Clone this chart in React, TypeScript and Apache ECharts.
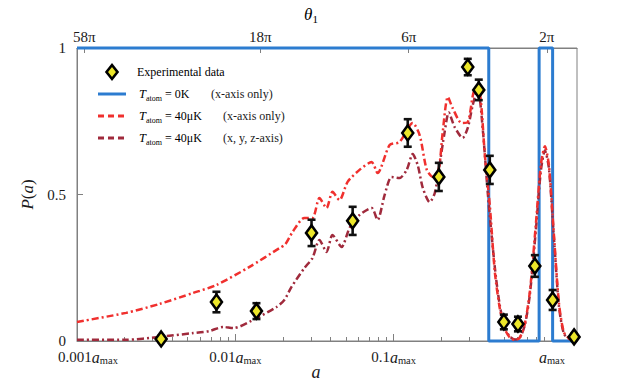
import React, { useEffect, useRef } from 'react';
import * as echarts from 'echarts';

// ---------- data ----------
const A_MIN = 0.001;
const A_MAX = 1.44;

// experimental points (a / a_max, P(a), error)
const expA = [0.0034, 0.0076, 0.0136, 0.0303, 0.0551, 0.1228, 0.193, 0.294, 0.345, 0.405, 0.497, 0.61, 0.78, 1.01, 1.38];
const expP = [0.007, 0.133, 0.102, 0.369, 0.41, 0.71, 0.56, 0.935, 0.857, 0.584, 0.065, 0.058, 0.256, 0.14, 0.014];
const expErr = [0.01, 0.035, 0.027, 0.045, 0.048, 0.047, 0.048, 0.028, 0.035, 0.048, 0.025, 0.025, 0.037, 0.034, 0.01];

// T_atom = 0K (x-axis only)
const blueA = [0.001, 0.399, 0.399, 0.83, 0.83, 1.01, 1.01, 1.44];
const blueP = [1, 1, 0, 0, 1, 1, 0, 0];

// T_atom = 40 uK (x-axis only)
const redA = [0.001, 0.00204, 0.0033, 0.00542, 0.00759, 0.0123, 0.019, 0.0207, 0.023, 0.0273, 0.0307, 0.034, 0.0377, 0.0411, 0.0455, 0.0512, 0.0609, 0.0726, 0.0792, 0.0944, 0.109, 0.132, 0.146, 0.162, 0.177, 0.193, 0.204, 0.22, 0.236, 0.269, 0.294, 0.326, 0.35, 0.377, 0.405, 0.436, 0.469, 0.505, 0.542, 0.583, 0.627, 0.675, 0.726, 0.792, 0.851, 0.903, 0.957, 1.03, 1.107, 1.19, 1.3];
const redP = [0.065, 0.096, 0.126, 0.164, 0.191, 0.253, 0.317, 0.33, 0.372, 0.42, 0.42, 0.488, 0.454, 0.509, 0.481, 0.543, 0.584, 0.611, 0.573, 0.669, 0.679, 0.744, 0.703, 0.584, 0.56, 0.59, 0.71, 0.833, 0.795, 0.744, 0.747, 0.857, 0.85, 0.635, 0.464, 0.235, 0.11, 0.04, 0.012, 0.003, 0.012, 0.06, 0.17, 0.4, 0.6, 0.665, 0.6, 0.36, 0.13, 0.03, 0.005];

// T_atom = 40 uK (x, y, z-axis)
const darkA = [0.001, 0.00204, 0.0033, 0.00542, 0.00684, 0.00839, 0.00971, 0.0136, 0.0182, 0.0204, 0.0226, 0.0273, 0.0307, 0.034, 0.0377, 0.0411, 0.0469, 0.0527, 0.0609, 0.0726, 0.0792, 0.0877, 0.0971, 0.109, 0.121, 0.132, 0.142, 0.153, 0.169, 0.182, 0.195, 0.21, 0.223, 0.243, 0.273, 0.294, 0.316, 0.34, 0.366, 0.394, 0.436, 0.469, 0.505, 0.542, 0.583, 0.627, 0.675, 0.726, 0.792, 0.851, 0.903, 0.957, 1.03, 1.107, 1.19, 1.3];
const darkP = [0.004, 0.004, 0.014, 0.027, 0.034, 0.048, 0.044, 0.078, 0.116, 0.14, 0.184, 0.249, 0.283, 0.345, 0.304, 0.362, 0.321, 0.386, 0.43, 0.454, 0.413, 0.498, 0.56, 0.556, 0.584, 0.638, 0.6, 0.522, 0.474, 0.505, 0.6, 0.713, 0.78, 0.73, 0.693, 0.727, 0.805, 0.863, 0.72, 0.5, 0.25, 0.12, 0.045, 0.015, 0.005, 0.012, 0.055, 0.16, 0.38, 0.58, 0.65, 0.59, 0.35, 0.12, 0.025, 0.005];

// axis ticks / labels
const xMajorTicks = [0.001, 0.01, 0.1, 1];
const xMajorLabels = ['0.001', '0.01', '0.1', ''];
const thetaTickA = [0.00111, 0.0144, 0.1245, 0.929];
const thetaLabels = ['58π', '18π', '6π', '2π'];
const yLabels = ['0', '0.5', '1'];

const legendNames = ['Experimental data', 'T_atom = 0K', 'T_atom = 40μK', 'T_atom = 40μK'];
const legendNotes = ['', '(x-axis only)', '(x-axis only)', '(x, y, z-axis)'];

// ---------- style ----------
const SERIF = "'Liberation Serif', 'Times New Roman', 'DejaVu Serif', serif";
const TXT = '#1a1a1a';
const AXIS = '#808080';
const BLUE = '#2c7cd0';
const RED = '#f0302e';
const DARK = '#a02a3c';
const YELLOW = '#ece62a';

const lg = (v: number) => Math.log10(v);

function findIdx(list: number[], v: number) {
  for (let i = 0; i < list.length; i++) if (Math.abs(lg(list[i]) - v) < 1e-6) return i;
  return -1;
}

const minorTicks: number[] = [];
for (let e = -3; e <= 0; e++) {
  for (let k = 2; k <= 9; k++) {
    const v = k * Math.pow(10, e);
    if (v < A_MAX) minorTicks.push(lg(v));
  }
}

const richTick = {
  p: { width: 22, lineHeight: 18 },
  n: { fontFamily: SERIF, fontSize: 15, color: TXT, lineHeight: 18, verticalAlign: 'middle' },
  i: { fontFamily: SERIF, fontSize: 16, fontStyle: 'italic', color: TXT, lineHeight: 18, verticalAlign: 'middle' },
  s: { fontFamily: SERIF, fontSize: 10.5, color: TXT, lineHeight: 9, verticalAlign: 'bottom' },
};

const richLegend = {
  n: { fontFamily: SERIF, fontSize: 12, color: TXT, lineHeight: 16, verticalAlign: 'middle' },
  i: { fontFamily: SERIF, fontSize: 12.5, fontStyle: 'italic', color: TXT, lineHeight: 16, verticalAlign: 'middle' },
  s: { fontFamily: SERIF, fontSize: 8, color: TXT, lineHeight: 8, verticalAlign: 'bottom' },
};

function legendRich(name: string) {
  if (name.startsWith('T_atom')) {
    return '{i|T}{s|atom}{n|' + name.slice(6) + '}';
  }
  return '{n|' + name + '}';
}

function buildOption() {
  const lo = lg(A_MIN);
  const hi = lg(A_MAX);
  const legendRows = [72, 94, 116, 138];
  const noteX = [0, 211, 223, 223];
  const lineColors = ['', BLUE, RED, DARK];
  const lineDash: any[] = [null, null, [6, 4], [6, 4]];

  const graphic: any[] = [];
  graphic.push({
    type: 'polygon',
    shape: { points: [[112, 65], [117.5, 72], [112, 79], [106.5, 72]] },
    style: { fill: YELLOW, stroke: '#000', lineWidth: 2.6 },
    z: 100,
  });
  legendNames.forEach((name, i) => {
    const y = legendRows[i];
    if (i > 0) {
      graphic.push({
        type: 'line',
        shape: { x1: 98, y1: y, x2: 126, y2: y },
        style: { stroke: lineColors[i], lineWidth: 3, lineDash: lineDash[i] || undefined },
        z: 100,
      });
    }
    graphic.push({
      type: 'text',
      x: i === 0 ? 137 : 139,
      y,
      style: { text: legendRich(name), rich: richLegend, verticalAlign: 'middle', align: 'left' },
      z: 100,
    });
    if (legendNotes[i]) {
      graphic.push({
        type: 'text',
        x: noteX[i],
        y,
        style: { text: legendNotes[i], fontFamily: SERIF, fontSize: 12, fill: TXT, verticalAlign: 'middle', align: 'left' },
        z: 100,
      });
    }
  });
  graphic.push({
    type: 'text',
    x: 316,
    y: 372,
    style: { text: 'a', fontFamily: SERIF, fontStyle: 'italic', fontSize: 18, fill: TXT, align: 'center', verticalAlign: 'middle' },
  });
  graphic.push({
    type: 'text',
    x: 311,
    y: 14,
    style: {
      text: '{i|θ}{s|1}',
      rich: {
        i: { fontFamily: SERIF, fontSize: 17, fontStyle: 'italic', color: TXT, lineHeight: 20, verticalAlign: 'middle' },
        s: { fontFamily: SERIF, fontSize: 11, color: TXT, lineHeight: 10, verticalAlign: 'bottom' },
      },
      align: 'center',
      verticalAlign: 'middle',
    },
  });

  return {
    animation: false,
    backgroundColor: '#fff',
    textStyle: { fontFamily: SERIF },
    grid: {
      left: 77,
      top: 48,
      right: 46,
      bottom: 44,
      show: true,
      borderColor: AXIS,
      borderWidth: 1,
      containLabel: false,
      outerBoundsMode: 'none',
    },
    xAxis: [
      {
        type: 'log',
        logBase: 10,
        min: A_MIN,
        max: A_MAX,
        show: false,
      },
      {
        type: 'value',
        position: 'bottom',
        min: lo,
        max: hi,
        axisLine: { show: true, onZero: false, lineStyle: { color: AXIS, width: 1 } },
        axisTick: { show: true, inside: true, length: 7, customValues: xMajorTicks.map(lg), lineStyle: { color: AXIS } },
        axisLabel: {
          show: true,
          customValues: xMajorTicks.map(lg),
          margin: 7,
          formatter: (v: number) => {
            const i = findIdx(xMajorTicks, v);
            if (i < 0) return '';
            const pad = i === 0 ? '{p|}' : '';
            return pad + (xMajorLabels[i] ? '{n|' + xMajorLabels[i] + '}' : '') + '{i|a}{s|max}';
          },
          rich: richTick,
        },
        splitLine: { show: false },
      },
      {
        type: 'value',
        position: 'bottom',
        min: lo,
        max: hi,
        axisLine: { show: false },
        axisTick: { show: true, inside: true, length: 4, customValues: minorTicks, lineStyle: { color: AXIS } },
        axisLabel: { show: false },
        splitLine: { show: false },
      },
      {
        type: 'value',
        position: 'top',
        min: lo,
        max: hi,
        axisLine: { show: true, onZero: false, lineStyle: { color: AXIS, width: 1 } },
        axisTick: { show: true, inside: true, length: 5, customValues: thetaTickA.map(lg), lineStyle: { color: AXIS } },
        axisLabel: {
          show: true,
          customValues: thetaTickA.map(lg),
          margin: 4,
          fontFamily: SERIF,
          fontSize: 15,
          color: TXT,
          formatter: (v: number) => {
            const i = findIdx(thetaTickA, v);
            return i < 0 ? '' : thetaLabels[i];
          },
        },
        splitLine: { show: false },
      },
    ],
    yAxis: [
      {
        type: 'value',
        min: 0,
        max: 1,
        interval: 0.5,
        axisLine: { show: true, onZero: false, lineStyle: { color: AXIS, width: 1 } },
        axisTick: { show: true, inside: true, length: 6, lineStyle: { color: AXIS } },
        axisLabel: {
          margin: 11,
          fontFamily: SERIF,
          fontSize: 15,
          color: TXT,
          padding: [0, 0, 4, 0],
          formatter: (v: number) => yLabels[Math.round(v * 2)] ?? '',
        },
        splitLine: { show: false },
        name: '{i|P}{n|(}{i|a}{n|)}',
        nameLocation: 'middle',
        nameGap: 38,
        nameRotate: 90,
        nameTextStyle: {
          rich: {
            i: { fontFamily: SERIF, fontSize: 17, fontStyle: 'italic', color: TXT },
            n: { fontFamily: SERIF, fontSize: 17, color: TXT },
          },
        },
      },
    ],
    graphic,
    series: [
      {
        type: 'line',
        name: 'blue',
        xAxisIndex: 0,
        yAxisIndex: 0,
        data: blueA.map((a, i) => [a, blueP[i]]),
        showSymbol: false,
        symbol: 'none',
        clip: false,
        lineStyle: { color: BLUE, width: 3 },
        z: 3,
      },
      {
        type: 'line',
        name: 'dark',
        xAxisIndex: 0,
        yAxisIndex: 0,
        data: darkA.map((a, i) => [a, darkP[i]]),
        showSymbol: false,
        symbol: 'none',
        smooth: 0.25,
        lineStyle: { color: DARK, width: 2.5, type: [7, 3, 2, 3] },
        z: 4,
      },
      {
        type: 'line',
        name: 'red',
        xAxisIndex: 0,
        yAxisIndex: 0,
        data: redA.map((a, i) => [a, redP[i]]),
        showSymbol: false,
        symbol: 'none',
        smooth: 0.25,
        lineStyle: { color: RED, width: 2.5, type: [7, 3, 2, 3] },
        z: 5,
      },
      {
        type: 'custom',
        name: 'err',
        xAxisIndex: 0,
        yAxisIndex: 0,
        clip: false,
        data: expA.map((a, i) => [a, expP[i] - expErr[i], expP[i] + expErr[i]]),
        encode: { x: 0, y: [1, 2] },
        renderItem: (params: any, api: any) => {
          const x = api.value(0);
          const pLo = api.coord([x, api.value(1)]);
          const pHi = api.coord([x, api.value(2)]);
          const cap = 4;
          const st = { stroke: '#111', lineWidth: 2.6 };
          return {
            type: 'group',
            children: [
              { type: 'line', shape: { x1: pLo[0], y1: pLo[1], x2: pHi[0], y2: pHi[1] }, style: st },
              { type: 'line', shape: { x1: pLo[0] - cap, y1: pLo[1], x2: pLo[0] + cap, y2: pLo[1] }, style: st },
              { type: 'line', shape: { x1: pHi[0] - cap, y1: pHi[1], x2: pHi[0] + cap, y2: pHi[1] }, style: st },
            ],
          };
        },
        z: 6,
      },
      {
        type: 'scatter',
        name: 'exp',
        xAxisIndex: 0,
        yAxisIndex: 0,
        data: expA.map((a, i) => [a, expP[i]]),
        symbol: 'diamond',
        symbolSize: [11, 15],
        clip: false,
        itemStyle: { color: YELLOW, borderColor: '#000', borderWidth: 2.6, opacity: 1 },
        z: 7,
      },
    ],
  };
}

export default function App() {
  const ref = useRef<HTMLDivElement>(null);
  useEffect(() => {
    if (!ref.current) return;
    const chart = echarts.init(ref.current, undefined, { renderer: 'svg' });
    chart.setOption(buildOption() as any);
    return () => chart.dispose();
  }, []);
  return (
    <div
      ref={ref}
      style={{ position: 'fixed', left: 0, top: 0, width: 623, height: 385, background: '#fff' }}
    />
  );
}
